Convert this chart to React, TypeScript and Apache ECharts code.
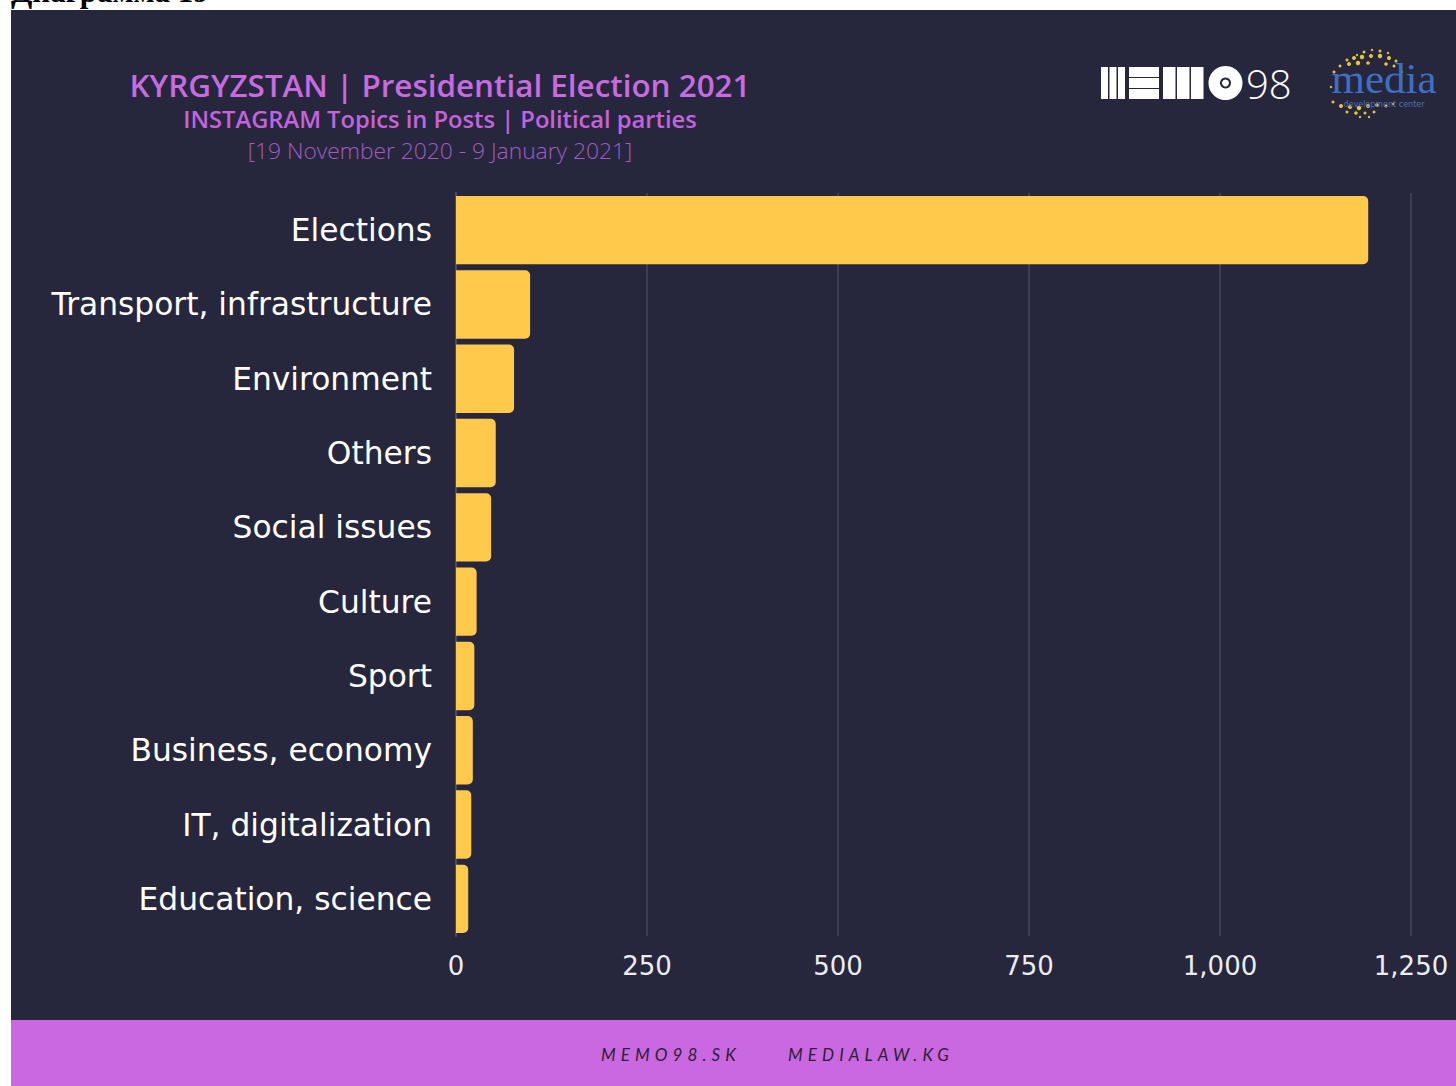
import React, { useEffect, useRef } from "react";
import * as echarts from "echarts";

const categories = [
  "Elections",
  "Transport, infrastructure",
  "Environment",
  "Others",
  "Social issues",
  "Culture",
  "Sport",
  "Business, economy",
  "IT, digitalization",
  "Education, science",
];
const values = [1194, 97, 76, 52, 46, 27, 24, 22, 20, 16];
const axisMin = 0;
const axisMax = 1250;
const axisInterval = 250;

const titleLine = "KYRGYZSTAN | Presidential Election 2021";
const subtitleLine = "INSTAGRAM Topics in Posts | Political parties";
const dateLine = "[19 November 2020 - 9 January 2021]";
const pageHeading = "Диаграмма 19";
const footerLinks = ["MEMO98.SK", "MEDIALAW.KG"];

const BG = "#26273c";
const PURPLE = "#c968e0";
const BAR = "#ffca4c";

function memoLogo(): any[] {
  const white = "#ffffff";
  const els: any[] = [];
  const top = 67;
  const h = 32;
  [1101, 1109.5, 1118].forEach((x) =>
    els.push({ type: "rect", shape: { x, y: top, width: 7, height: h }, style: { fill: white } })
  );
  [0, 1, 2].forEach((i) =>
    els.push({ type: "rect", shape: { x: 1129, y: top + i * 11, width: 30, height: 10 }, style: { fill: white } })
  );
  [1163, 1177, 1191].forEach((x) =>
    els.push({ type: "rect", shape: { x, y: top, width: 12.5, height: h }, style: { fill: white } })
  );
  els.push({ type: "circle", shape: { cx: 1225.5, cy: 83, r: 17 }, style: { fill: white } });
  els.push({ type: "circle", shape: { cx: 1225.5, cy: 83, r: 5.5 }, style: { fill: BG } });
  els.push({ type: "circle", shape: { cx: 1225.5, cy: 83, r: 3.5 }, style: { fill: white } });
  els.push({
    type: "text",
    x: 1246,
    y: 83,
    style: {
      text: "98",
      fill: white,
      font: '300 40px "Open Sans"',
      lineHeight: 34,
      verticalAlign: "middle",
      align: "left",
    },
  });
  return els;
}

function mediaLogo(): any[] {
  const els: any[] = [];
  const dots: [number, number, number][] = [
    [1357, 55, 1.2], [1364, 52, 1.5], [1372, 50, 1.2], [1380, 51, 1.5], [1388, 53, 1.2],
    [1347, 60, 1.5], [1354, 58, 2], [1362, 57, 2.2], [1371, 56, 2], [1380, 56, 2.2], [1389, 58, 2],
    [1396, 61, 1.5], [1340, 66, 1.5], [1349, 64, 2], [1358, 63, 2.2], [1368, 63, 1.8], [1386, 64, 1.8],
    [1394, 66, 1.5], [1334, 72, 1.5], [1402, 72, 1.2], [1331, 87, 1.2],
    [1333, 102, 1.5], [1341, 106, 2], [1350, 107, 2], [1359, 108, 2.2], [1368, 106, 2],
    [1377, 105, 1.8], [1386, 106, 1.5], [1393, 104, 1.2], [1347, 112, 1.5], [1356, 113, 1.8],
    [1365, 113, 1.5], [1374, 112, 1.5], [1360, 117, 1.2], [1369, 117, 1.2],
  ];
  dots.forEach(([cx, cy, r]) =>
    els.push({ type: "circle", shape: { cx, cy, r }, style: { fill: "#e9c53a" } })
  );
  els.push({
    type: "text",
    x: 1384,
    y: 78,
    style: {
      text: "media",
      fill: "#3f6fc2",
      font: '43px "Liberation Serif"',
      lineHeight: 24,
      align: "center",
      verticalAlign: "middle",
    },
  });
  els.push({
    type: "text",
    x: 1384,
    y: 104,
    style: {
      text: "development center",
      fill: "#4a72bb",
      font: '8px "DejaVu Sans"',
      lineHeight: 8,
      align: "center",
      verticalAlign: "middle",
    },
  });
  return els;
}

export default function App() {
  const ref = useRef<HTMLDivElement>(null);
  useEffect(() => {
    if (!ref.current) return;
    const chart = echarts.init(ref.current, null, { renderer: "svg" });
    const labelFont = "DejaVu Sans";
    chart.setOption({
      animation: false,
      backgroundColor: "#ffffff",
      graphic: [
        { type: "rect", z: -10, shape: { x: 11, y: 10, width: 1445, height: 1010 }, style: { fill: BG } },
        { type: "rect", z: -10, shape: { x: 11, y: 1020, width: 1445, height: 66 }, style: { fill: PURPLE } },
        {
          type: "text",
          x: 11,
          y: 7,
          style: {
            text: pageHeading,
            fill: "#000000",
            font: 'bold 31px "Liberation Serif"',
            align: "left",
            verticalAlign: "bottom",
          },
        },
        {
          type: "text",
          x: 440,
          y: 84,
          style: {
            text: titleLine,
            fill: "#c86be0",
            font: '600 31.4px "Open Sans"',
            align: "center",
            verticalAlign: "middle",
          },
        },
        {
          type: "text",
          x: 440,
          y: 119,
          style: {
            text: subtitleLine,
            fill: "#c463dc",
            font: '600 23.7px "Open Sans"',
            align: "center",
            verticalAlign: "middle",
          },
        },
        {
          type: "text",
          x: 440,
          y: 150,
          style: {
            text: dateLine,
            fill: "#a45ac4",
            font: '300 22.8px "Open Sans"',
            align: "center",
            verticalAlign: "middle",
          },
        },
        ...memoLogo(),
        ...mediaLogo(),
      ],
      grid: { left: 456, right: 45, top: 193, bottom: 150, containLabel: false },
      xAxis: {
        type: "value",
        min: axisMin,
        max: axisMax,
        interval: axisInterval,
        axisLine: { show: false },
        axisTick: { show: false },
        splitLine: { show: true, lineStyle: { color: "#3d3e56", width: 2 } },
        axisLabel: {
          color: "#ececf2",
          fontSize: 26,
          fontFamily: labelFont,
          margin: 17,
          formatter: (v: number) => v.toLocaleString("en-US"),
        },
      },
      yAxis: {
        type: "category",
        data: categories,
        inverse: true,
        axisLine: { show: true, lineStyle: { color: "#4a4b62", width: 2 } },
        axisTick: { show: false },
        axisLabel: {
          color: "#ffffff",
          fontSize: 31.3,
          fontFamily: labelFont,
          margin: 24,
        },
      },
      series: [
        {
          type: "bar",
          data: values,
          barCategoryGap: "8%",
          itemStyle: { color: BAR, borderRadius: [0, 5, 5, 0] },
        },
      ],
    });
    return () => chart.dispose();
  }, []);

  const footerStyle: React.CSSProperties = {
    position: "absolute",
    top: 1044,
    fontFamily: "Lato",
    fontStyle: "italic",
    fontSize: 17,
    letterSpacing: "5.1px",
    color: "#2a2233",
    lineHeight: "22px",
    whiteSpace: "nowrap",
  };

  return (
    <div style={{ position: "absolute", left: 0, top: 0, width: 1456, height: 1086, overflow: "hidden" }}>
      <div ref={ref} style={{ position: "absolute", left: 0, top: 0, width: 1456, height: 1086 }} />
      <div style={{ ...footerStyle, left: 601 }}>{footerLinks[0]}</div>
      <div style={{ ...footerStyle, left: 788 }}>{footerLinks[1]}</div>
    </div>
  );
}
